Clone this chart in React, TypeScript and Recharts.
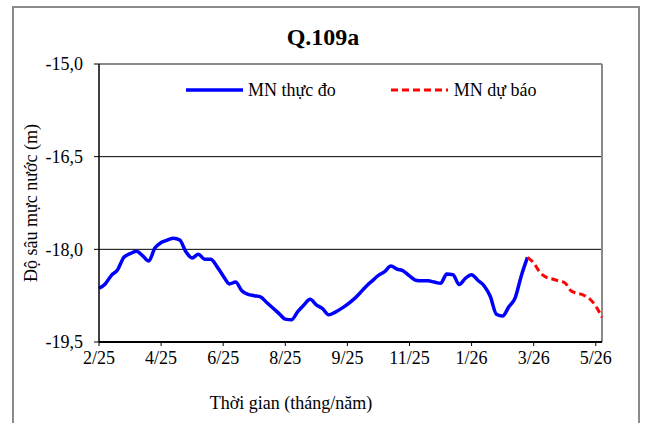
import React from 'react';
import { LineChart, Line, XAxis, YAxis, ReferenceLine } from 'recharts';

const observed = [
  -18.63, -18.56, -18.42, -18.33, -18.13, -18.07, -18.03, -18.10, -18.19, -17.98,
  -17.89, -17.85, -17.82, -17.85, -18.04, -18.14, -18.08, -18.16, -18.16, -18.28,
  -18.43, -18.56, -18.53, -18.67, -18.73, -18.75, -18.77, -18.86, -18.95, -19.04,
  -19.13, -19.14, -19.01, -18.90, -18.81, -18.90, -18.96, -19.06, -19.02, -18.96,
  -18.89, -18.81, -18.71, -18.60, -18.51, -18.42, -18.36, -18.27, -18.32, -18.35,
  -18.43, -18.50, -18.51, -18.51, -18.53, -18.55, -18.40, -18.41, -18.57, -18.47,
  -18.41, -18.50, -18.59, -18.76, -19.05, -19.08, -18.93, -18.79, -18.43, -18.13,
];
const forecast = [
  -18.13, -18.22, -18.37, -18.45, -18.48, -18.51, -18.54, -18.67, -18.71, -18.74,
  -18.80, -18.92, -19.10,
];
const forecastStart = observed.length - 1;
const totalPoints = forecastStart + forecast.length;

const tickPositions = [0, 10, 20, 30, 40, 50, 60, 70, 80];
const tickLabels = ['2/25', '4/25', '6/25', '8/25', '9/25', '11/25', '1/26', '3/26', '5/26'];
const yTicks = [-15, -16.5, -18, -19.5];
const gridValues = [-16.5, -18];
const seriesNames = ['MN thực đo', 'MN dự báo'];
const title = 'Q.109a';
const xTitle = 'Thời gian (tháng/năm)';
const yTitle = 'Độ sâu mực nước (m)';

const data = Array.from({ length: totalPoints }, (_, i) => ({
  t: i,
  observed: i < observed.length ? observed[i] : null,
  forecast: i >= forecastStart ? forecast[i - forecastStart] : null,
}));

const FONT = '"Liberation Serif", "Times New Roman", serif';

export default function App() {
  return (
    <div
      style={{
        position: 'absolute',
        left: 0,
        top: 0,
        width: 646,
        height: 423,
        overflow: 'hidden',
        background: '#fff',
        fontFamily: FONT,
      }}
    >
      <div
        style={{
          position: 'absolute',
          left: 12,
          top: 6,
          width: 628,
          height: 440,
          border: '2px solid #8a8a8a',
          boxSizing: 'border-box',
        }}
      />
      <div style={{ position: 'absolute', left: 0, top: 0 }}>
        <LineChart
          width={646}
          height={423}
          data={data}
          margin={{ top: 64, right: 44, bottom: 51, left: 0 }}
        >
          <XAxis
            dataKey="t"
            type="number"
            domain={[0, totalPoints - 1]}
            ticks={tickPositions}
            interval={0}
            tickFormatter={(v: number) => tickLabels[tickPositions.indexOf(v)] ?? ''}
            axisLine={{ stroke: '#000', strokeWidth: 2 }}
            tickLine={{ stroke: '#000', strokeWidth: 1 }}
            tickSize={4}
            tickMargin={5}
            height={30}
            tick={{ fill: '#000', fontSize: 18, fontFamily: FONT }}
          />
          <YAxis
            type="number"
            domain={[-19.5, -15]}
            ticks={yTicks}
            interval={0}
            width={99}
            tickFormatter={(v: number) => v.toFixed(1).replace('.', ',')}
            axisLine={{ stroke: '#000', strokeWidth: 1.5 }}
            tickLine={{ stroke: '#000', strokeWidth: 1 }}
            tickSize={5}
            tickMargin={11}
            tick={{ fill: '#000', fontSize: 18, fontFamily: FONT }}
          />
          {gridValues.map((g) => (
            <ReferenceLine key={g} y={g} stroke="#000" strokeWidth={1} />
          ))}
          <ReferenceLine y={-15} stroke="#8a8a8a" strokeWidth={2} />
          <ReferenceLine x={totalPoints - 1} stroke="#8a8a8a" strokeWidth={2} />
          <Line
            type="monotone"
            dataKey="observed"
            stroke="#0000ff"
            strokeWidth={3.5}
            dot={false}
            isAnimationActive={false}
            connectNulls={false}
          />
          <Line
            type="monotone"
            dataKey="forecast"
            stroke="#ff0000"
            strokeWidth={3}
            strokeDasharray="7 4"
            dot={false}
            isAnimationActive={false}
            connectNulls={false}
          />
        </LineChart>
      </div>
      <div
        style={{
          position: 'absolute',
          left: 0,
          top: 24,
          width: 646,
          textAlign: 'center',
          fontWeight: 'bold',
          fontSize: 24,
          lineHeight: '26px',
        }}
      >
        {title}
      </div>
      <div
        style={{
          position: 'absolute',
          left: 186,
          top: 79,
          display: 'flex',
          alignItems: 'center',
          fontSize: 18,
          lineHeight: '22px',
          whiteSpace: 'nowrap',
        }}
      >
        <svg width={57} height={8} style={{ display: 'block' }}>
          <line x1={0} y1={4} x2={57} y2={4} stroke="#0000ff" strokeWidth={3.5} />
        </svg>
        <span style={{ marginLeft: 5 }}>{seriesNames[0]}</span>
        <svg width={57} height={8} style={{ display: 'block', marginLeft: 55 }}>
          <line x1={0} y1={4} x2={57} y2={4} stroke="#ff0000" strokeWidth={3} strokeDasharray="7 4" />
        </svg>
        <span style={{ marginLeft: 6 }}>{seriesNames[1]}</span>
      </div>
      <div
        style={{
          position: 'absolute',
          left: 291 - 150,
          top: 393,
          width: 300,
          textAlign: 'center',
          fontSize: 18,
          lineHeight: '20px',
        }}
      >
        {xTitle}
      </div>
      <div
        style={{
          position: 'absolute',
          left: 31 - 150,
          top: 203 - 10,
          width: 300,
          textAlign: 'center',
          fontSize: 18,
          lineHeight: '20px',
          transform: 'rotate(-90deg)',
        }}
      >
        {yTitle}
      </div>
    </div>
  );
}
